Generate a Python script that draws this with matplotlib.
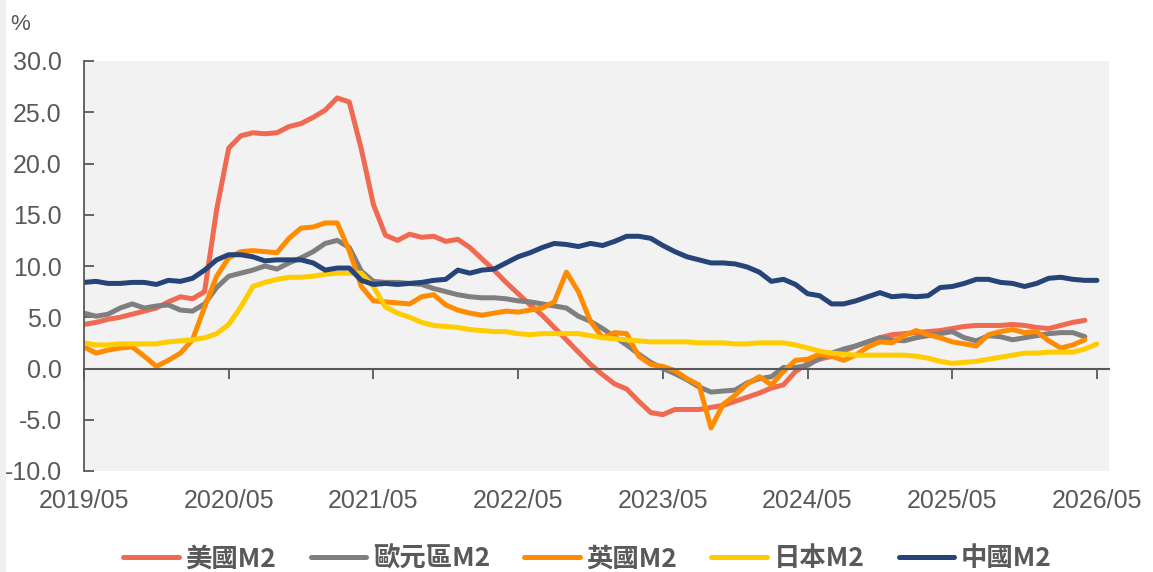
import matplotlib
matplotlib.use("Agg")
import matplotlib.pyplot as plt
from matplotlib.patches import Rectangle

plt.rcParams["font.family"] = ["Liberation Sans", "Noto Sans CJK TC"]

# monthly growth, % yoy, starting 2019/05
us_m2 = [4.3, 4.5, 4.8, 5.0, 5.3, 5.6, 5.9, 6.5, 7.0, 6.8,
         7.5, 15.5, 21.5, 22.7, 23.0, 22.9, 23.0, 23.6, 23.9, 24.5,
         25.2, 26.4, 26.0, 21.4, 16.0, 13.0, 12.5, 13.1, 12.8, 12.9,
         12.4, 12.6, 11.8, 10.7, 9.6, 8.4, 7.3, 6.2, 5.2, 4.0,
         2.8, 1.6, 0.4, -0.6, -1.5, -2.0, -3.2, -4.3, -4.5, -4.0,
         -4.0, -4.0, -3.8, -3.6, -3.2, -2.8, -2.4, -1.9, -1.6, -0.3,
         0.5, 0.9, 1.2, 1.7, 2.2, 2.6, 3.0, 3.3, 3.4, 3.5,
         3.6, 3.7, 3.9, 4.1, 4.2, 4.2, 4.2, 4.3, 4.2, 4.0,
         3.9, 4.2, 4.5, 4.7]
euro_m2 = [5.4, 5.1, 5.3, 5.9, 6.3, 5.9, 6.1, 6.2, 5.7, 5.6,
           6.3, 7.9, 9.0, 9.3, 9.6, 10.0, 9.7, 10.3, 10.8, 11.4,
           12.2, 12.5, 11.8, 9.5, 8.5, 8.4, 8.4, 8.3, 8.2, 7.8,
           7.5, 7.2, 7.0, 6.9, 6.9, 6.8, 6.6, 6.5, 6.3, 6.1,
           5.9, 5.1, 4.6, 3.9, 3.1, 2.3, 1.4, 0.6, 0.0, -0.5,
           -1.1, -1.8, -2.3, -2.2, -2.1, -1.4, -1.0, -0.8, 0.1, 0.1,
           0.3, 1.0, 1.5, 1.9, 2.2, 2.6, 3.0, 2.8, 2.7, 3.0,
           3.2, 3.4, 3.6, 3.0, 2.7, 3.2, 3.1, 2.8, 3.0, 3.2,
           3.4, 3.5, 3.5, 3.1]
uk_m2 = [2.1, 1.5, 1.8, 2.0, 2.1, 1.2, 0.2, 0.8, 1.5, 2.8,
         6.0, 9.0, 10.8, 11.4, 11.5, 11.4, 11.3, 12.7, 13.7, 13.8,
         14.2, 14.2, 11.5, 8.0, 6.6, 6.5, 6.4, 6.3, 7.0, 7.2,
         6.2, 5.7, 5.4, 5.2, 5.4, 5.6, 5.5, 5.7, 5.9, 6.5,
         9.4, 7.5, 4.6, 3.0, 3.5, 3.4, 1.2, 0.4, 0.2, -0.2,
         -1.0, -1.6, -5.8, -3.5, -2.6, -1.5, -0.8, -1.6, -0.3, 0.8,
         0.9, 1.4, 1.2, 0.8, 1.3, 2.1, 2.6, 2.5, 3.2, 3.7,
         3.3, 3.0, 2.6, 2.4, 2.2, 3.3, 3.6, 3.8, 3.5, 3.6,
         2.7, 2.0, 2.3, 2.8]
japan_m2 = [2.5, 2.3, 2.3, 2.4, 2.4, 2.4, 2.4, 2.6, 2.7, 2.8,
            3.0, 3.4, 4.3, 6.0, 8.0, 8.4, 8.7, 8.9, 8.9, 9.0,
            9.2, 9.3, 9.3, 9.3, 8.0, 6.0, 5.4, 5.0, 4.5, 4.2,
            4.1, 4.0, 3.8, 3.7, 3.6, 3.6, 3.4, 3.3, 3.4, 3.4,
            3.4, 3.4, 3.2, 3.0, 2.9, 2.8, 2.7, 2.6, 2.6, 2.6,
            2.6, 2.5, 2.5, 2.5, 2.4, 2.4, 2.5, 2.5, 2.5, 2.3,
            2.0, 1.7, 1.5, 1.4, 1.3, 1.3, 1.3, 1.3, 1.3, 1.2,
            1.0, 0.7, 0.5, 0.6, 0.7, 0.9, 1.1, 1.3, 1.5, 1.5,
            1.6, 1.6, 1.6, 1.9, 2.4]
china_m2 = [8.4, 8.5, 8.3, 8.3, 8.4, 8.4, 8.2, 8.6, 8.5, 8.8,
            9.6, 10.6, 11.1, 11.1, 10.9, 10.5, 10.6, 10.6, 10.6, 10.3,
            9.6, 9.8, 9.8, 8.6, 8.2, 8.3, 8.2, 8.3, 8.4, 8.6,
            8.7, 9.6, 9.3, 9.6, 9.7, 10.3, 10.9, 11.3, 11.8, 12.2,
            12.1, 11.9, 12.2, 12.0, 12.4, 12.9, 12.9, 12.7, 12.0, 11.4,
            10.9, 10.6, 10.3, 10.3, 10.2, 9.9, 9.4, 8.5, 8.7, 8.2,
            7.3, 7.1, 6.3, 6.3, 6.6, 7.0, 7.4, 7.0, 7.1, 7.0,
            7.1, 7.9, 8.0, 8.3, 8.7, 8.7, 8.4, 8.3, 8.0, 8.3,
            8.8, 8.9, 8.7, 8.6, 8.6]

series_names = ["美國M2", "歐元區M2", "英國M2", "日本M2", "中國M2"]
series_colors = ["#EF6A50", "#7F7F7F", "#FF8C00", "#FFCC00", "#264478"]
tick_labels = ["2019/05", "2020/05", "2021/05", "2022/05",
               "2023/05", "2024/05", "2025/05", "2026/05"]
tick_months = [0, 12, 24, 36, 48, 60, 72, 84]

text_gray = "#595959"
W, H = 1153, 572

fig = plt.figure(figsize=(W / 100, H / 100), dpi=100)
fig.add_artist(Rectangle((0, 0), 5 / W, 1, transform=fig.transFigure,
                         color="#F0F0F0", zorder=0))

ax = fig.add_axes([84 / W, 1 - 471 / H, (1109 - 84) / W, (471 - 61) / H])
ax.set_facecolor("#F2F2F2")

all_series = [us_m2, euro_m2, uk_m2, japan_m2, china_m2]
for vals, color, name in zip(all_series, series_colors, series_names):
    ax.plot(range(len(vals)), vals, color=color, lw=3.6, label=name,
            solid_capstyle="round", solid_joinstyle="round")

ax.set_xlim(0, 85)
ax.set_ylim(-10, 30)
ax.set_yticks(range(-10, 31, 5))
ax.set_yticklabels([f"{v:.1f}" for v in range(-10, 31, 5)])

for side in ["top", "right"]:
    ax.spines[side].set_visible(False)
ax.spines["left"].set_color(text_gray)
ax.spines["left"].set_linewidth(1.3)
ax.spines["bottom"].set_position(("data", 0))
ax.spines["bottom"].set_color(text_gray)
ax.spines["bottom"].set_linewidth(1.5)

ax.tick_params(axis="y", direction="in", length=7, width=1.3, color=text_gray,
               labelsize=18, labelcolor=text_gray, pad=16)
ax.set_xticks(tick_months)
ax.tick_params(axis="x", direction="out", length=7, width=1.3, color=text_gray,
               labelbottom=False)

# date labels sit below the plot area, not on the zero line
sec = ax.secondary_xaxis("bottom")
sec.set_xticks(tick_months)
sec.set_xticklabels(tick_labels)
sec.tick_params(length=0, labelsize=18, labelcolor=text_gray, pad=13)
sec.spines["bottom"].set_visible(False)

fig.text(10 / W, 1 - 24 / H, "%", fontsize=16, color=text_gray,
         ha="left", va="center")

fig.legend(loc="center", bbox_to_anchor=(0.5095, 1 - 559 / H), ncol=5,
           frameon=False, handlelength=2.1, handletextpad=0.25,
           columnspacing=1.3, labelcolor=text_gray,
           prop={"family": ["Noto Sans CJK TC"], "weight": "bold", "size": 19})

fig.savefig("out.png", dpi=100)
